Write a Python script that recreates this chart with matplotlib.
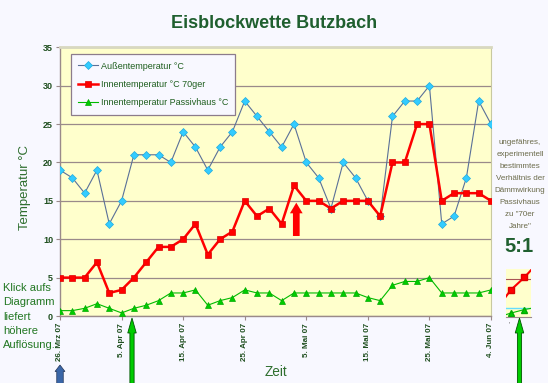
import pandas as pd
import matplotlib
matplotlib.use('Agg')
import matplotlib.pyplot as plt
from matplotlib.patches import FancyArrow

# Messwerte alle 2 Tage, 26.03.2007 - 04.06.2007
datum = pd.date_range('2007-03-26', '2007-06-04', freq='2D')
aussen = [19, 18, 16, 19, 12, 15, 21, 21, 21, 20, 24, 22, 19, 22, 24, 28, 26, 24,
          22, 25, 20, 18, 14, 20, 18, 15, 13, 26, 28, 28, 30, 12, 13, 18, 28, 25]
innen_70er = [5, 5, 5, 7, 3, 3.4, 5, 7, 9, 9, 10, 12, 8, 10, 11, 15, 13, 14,
              12, 17, 15, 15, 14, 15, 15, 15, 13, 20, 20, 25, 25, 15, 16, 16, 16, 15]
innen_passiv = [0.7, 0.7, 1, 1.6, 1, 0.4, 1, 1.4, 2, 3, 3, 3.4, 1.4, 2, 2.4, 3.4, 3, 3,
                2, 3, 3, 3, 3, 3, 3, 2.4, 2, 4, 4.5, 4.5, 5, 3, 3, 3, 3, 3.4]

tick_daten = pd.date_range('2007-03-26', '2007-06-04', freq='10D')
tick_labels = ['26. Mrz 07', '5. Apr 07', '15. Apr 07', '25. Apr 07',
               '5. Mai 07', '15. Mai 07', '25. Mai 07', '4. Jun 07']
y_ticks = [0, 5, 10, 15, 20, 25, 30, 35]

# kleines Vorschaubild rechts unten
inset_x = [0, 1, 3.7, 5]
inset_rot = [5, 6.7, 9.9, 11.7]
inset_gruen = [0.5, 0.9, 1.8, 2.1]

plt.rcParams['font.family'] = 'Liberation Sans'

W, H = 548, 383
BG = '#F8F8FF'
GELB = '#FFFFCC'
DUNKELGRUEN = '#1F5F2F'
GRID = '#9A8A8A'

fig = plt.figure(figsize=(W / 100, H / 100), dpi=100, facecolor=BG)


def box(x0, y0, x1, y1):
    # Pixel-Koordinaten (oben links) -> figure fraction
    return [x0 / W, 1 - y1 / H, (x1 - x0) / W, (y1 - y0) / H]


ax = fig.add_axes(box(60, 47.3, 491, 316))
ax.set_facecolor(GELB)

ax.plot(datum, aussen, color='#5A7098', lw=0.8, marker='D', ms=4.2,
        mfc='#33CCFF', mec='#22AADD', mew=0.5, label='Außentemperatur °C', zorder=3)
ax.plot(datum, innen_70er, color='#FF0000', lw=1.8, marker='s', ms=5,
        mfc='#FF0000', mec='#DD0000', mew=0.5, label='Innentemperatur °C 70ger', zorder=4)
ax.plot(datum, innen_passiv, color='#00BB00', lw=0.8, marker='^', ms=4.6,
        mfc='#00CC00', mec='#00AA00', mew=0.5, label='Innentemperatur Passivhaus °C', zorder=3)

ax.set_ylim(0, 35)
ax.set_xlim(datum[0], datum[-1])
ax.set_yticks(y_ticks)
ax.set_yticklabels([str(v) for v in y_ticks], fontsize=6.5, fontweight='bold', color='#1E4E1E')
ax.set_xticks(tick_daten)
ax.set_xticklabels(tick_labels, rotation=90, fontsize=5.8, fontweight='bold',
                   color='#1E4E1E', va='top')
ax.tick_params(axis='both', direction='out', length=3, width=0.8, color=GRID, pad=2)
ax.grid(axis='y', color=GRID, lw=0.9)
ax.set_axisbelow(True)
for side in ['left', 'bottom']:
    ax.spines[side].set_color(GRID)
    ax.spines[side].set_linewidth(1)
ax.spines['right'].set_color('#C8C8A0')
ax.spines['top'].set_color('#D8D8C0')
ax.spines['top'].set_linewidth(2)

leg = ax.legend(loc='upper left', bbox_to_anchor=(0.025, 0.974), borderaxespad=0,
                fontsize=6.5, frameon=True, fancybox=False, framealpha=1,
                facecolor=BG, edgecolor='#8C7C8C', labelspacing=1.05,
                handlelength=2.2, handletextpad=0.3, borderpad=0.8, labelcolor='#1E5E1E')
leg.get_frame().set_linewidth(0.9)

# Inset
ins = fig.add_axes(box(505.7, 269, 531, 316.7))
ins.set_facecolor(GELB)
ins.set_xlim(0, 5)
ins.set_ylim(0, 12)
ins.axhline(9.5, color='#AA5555', lw=0.8)
ins.axhline(2.3, color='#66DDFF', lw=1.0)
ins.plot(inset_x, inset_rot, color='#FF0000', lw=1.5, marker='s', ms=5,
         markevery=[1, 2], mfc='#FF0000', mec='#DD0000')
ins.plot(inset_x, inset_gruen, color='#00BB00', lw=0.8, marker='^', ms=4.6,
         markevery=[1, 2], mfc='#00CC00', mec='#00AA00')
ins.set_xticks([])
ins.set_yticks([])
for side in ins.spines.values():
    side.set_visible(False)
ins.spines['bottom'].set_visible(True)
ins.spines['bottom'].set_color(GRID)

# Overlay in Pixel-Koordinaten fuer Texte und Pfeile
ov = fig.add_axes([0, 0, 1, 1], facecolor='none')
ov.set_xlim(0, W)
ov.set_ylim(H, 0)
ov.axis('off')

ov.text(274, 24, 'Eisblockwette Butzbach', ha='center', va='center', fontsize=13,
        fontweight='bold', color=DUNKELGRUEN)
ov.text(25, 187, 'Temperatur °C', ha='center', va='center', rotation=90,
        fontsize=9.5, color='#2E6E2E')
ov.text(276, 372, 'Zeit', ha='center', va='center', fontsize=9.8, color='#2E6E2E')

links = ['Klick aufs', 'Diagramm', 'liefert', 'höhere', 'Auflösung.']
for i, zeile in enumerate(links):
    ov.text(3, 288 + i * 14.3, zeile, ha='left', va='center', fontsize=8,
            color='#227722')

rechts = ['ungefähres,', 'experimentell', 'bestimmtes', 'Verhältnis der',
          'Dämmwirkung', 'Passivhaus', 'zu "70er', 'Jahre"']
for i, zeile in enumerate(rechts):
    ov.text(520, 143 + i * 11.9, zeile, ha='center', va='center', fontsize=5.8,
            color='#6B6B4B')
ov.text(519, 247, '5:1', ha='center', va='center', fontsize=14.5,
        fontweight='bold', color=DUNKELGRUEN)
ov.text(509, 325, "'", ha='center', va='center', fontsize=5, color='#555555')

# Pfeile
ov.add_patch(FancyArrow(296.3, 236, 0, -33.3, width=6.7, head_width=12.7, head_length=10.6,
                        length_includes_head=True, color='#FF0000', lw=0))
for x in [132, 519.5]:
    ov.add_patch(FancyArrow(x, 385, 0, -67, width=4.2, head_width=8.5, head_length=15,
                            length_includes_head=True, fc='#00CC00', ec='#005500', lw=0.6))
ov.add_patch(FancyArrow(60, 385, 0, -20, width=6.5, head_width=10, head_length=6.5,
                        length_includes_head=True, fc='#3A66A8', ec='#223355', lw=0.5))

fig.savefig('out.png', dpi=100, facecolor=BG)
